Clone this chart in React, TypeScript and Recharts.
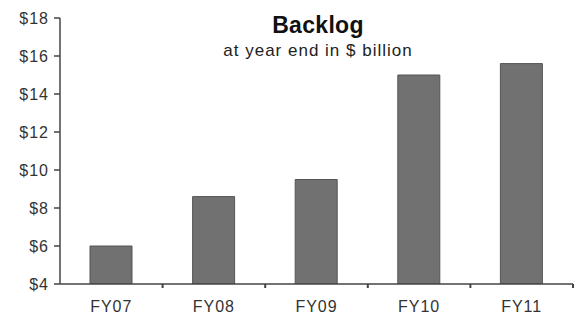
import { BarChart, Bar, XAxis, YAxis } from "recharts";

const years = ["FY07", "FY08", "FY09", "FY10", "FY11"];
const backlog = [6.0, 8.6, 9.5, 15.0, 15.6];
const yTicks = [4, 6, 8, 10, 12, 14, 16, 18];

const chartData = years.map((year, i) => ({ year, value: backlog[i] }));

const font = "'Liberation Sans', Arial, sans-serif";
const CHART_W = 574;
const Y_AXIS_W = 60;
const RIGHT = 1;
const band = (CHART_W - Y_AXIS_W - RIGHT) / years.length;

// category label plus a small tick mark on the right edge of each band
const YearTick = (props: any) => {
  const { x, y, payload } = props;
  const axisY = y - 8;
  return (
    <g>
      <line x1={x + band / 2} x2={x + band / 2} y1={axisY} y2={axisY + 4} stroke="#444" strokeWidth={2} />
      <text x={x} y={y} dy={20} textAnchor="middle" fill="#333" fontSize={16} fontFamily={font} style={{ letterSpacing: 1 }}>
        {payload.value}
      </text>
    </g>
  );
};

const App = () => {
  return (
    <div style={{ position: "absolute", left: 0, top: 0, width: 574, height: 318, background: "#fff", fontFamily: font }}>
      <BarChart
        width={CHART_W}
        height={318}
        data={chartData}
        margin={{ top: 18, right: RIGHT, bottom: 4, left: 0 }}
        barSize={42}
      >
        <XAxis
          dataKey="year"
          height={30}
          stroke="#444"
          strokeWidth={1.5}
          tickLine={false}
          tick={<YearTick />}
          interval={0}
        />
        <YAxis
          width={Y_AXIS_W}
          domain={[4, 18]}
          ticks={yTicks}
          tickFormatter={(v: number) => `$${v}`}
          stroke="#444"
          strokeWidth={1.5}
          tickSize={6}
          tickMargin={5}
          tick={{ fill: "#333", fontSize: 16, fontFamily: font, style: { letterSpacing: 1 } }}
          interval={0}
          allowDataOverflow
        />
        <Bar dataKey="value" fill="#717171" stroke="#555" strokeWidth={1} isAnimationActive={false} />
      </BarChart>
      <div style={{ position: "absolute", left: 0, width: 636, top: 12, textAlign: "center", fontSize: 23, fontWeight: "bold", color: "#111", letterSpacing: 0.3 }}>
        Backlog
      </div>
      <div style={{ position: "absolute", left: 0, width: 636, top: 41, textAlign: "center", fontSize: 17, color: "#222", letterSpacing: 1 }}>
        at year end in $ billion
      </div>
    </div>
  );
};

export default App;
